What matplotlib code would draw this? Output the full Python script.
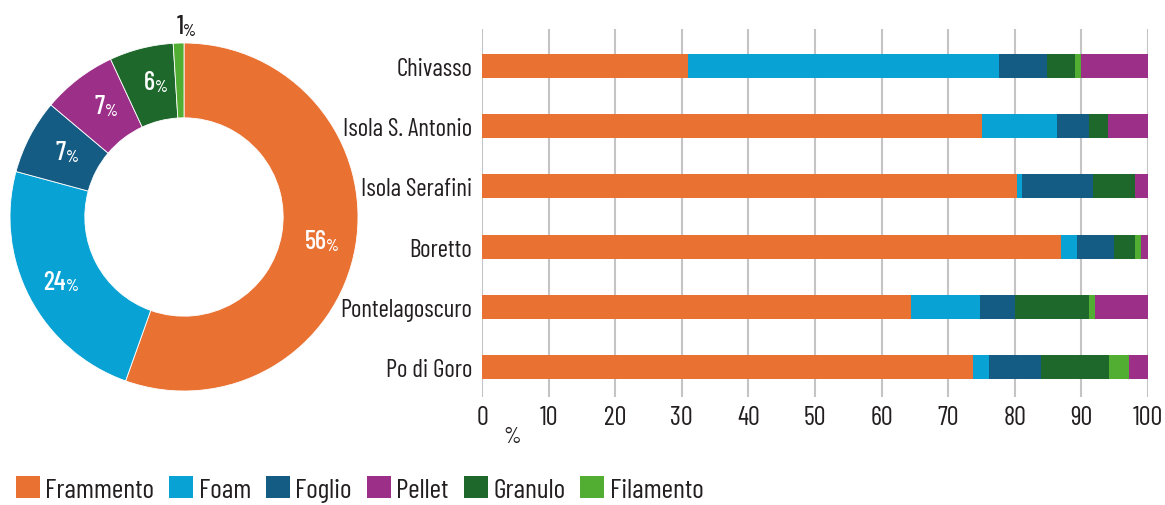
import numpy as np
import matplotlib
matplotlib.use("Agg")
import matplotlib.pyplot as plt
from matplotlib import font_manager
from matplotlib.patches import Patch

# font condensato se disponibile
names = {f.name for f in font_manager.fontManager.ttflist}
font = "Barlow Condensed" if "Barlow Condensed" in names else "DejaVu Sans"
plt.rcParams["font.family"] = [font, "DejaVu Sans"]

# dati
tipi = ["Frammento", "Foam", "Foglio", "Pellet", "Granulo", "Filamento"]
colori = {"Frammento": "#E97132", "Foam": "#09A2D4", "Foglio": "#155C84",
          "Pellet": "#9C3089", "Granulo": "#1E682C", "Filamento": "#52AE32"}

torta = [56, 24, 7, 7, 6, 1]  # stesso ordine di tipi

siti = ["Chivasso", "Isola S. Antonio", "Isola Serafini", "Boretto",
        "Pontelagoscuro", "Po di Goro"]
ordine_barre = ["Frammento", "Foam", "Foglio", "Granulo", "Filamento", "Pellet"]
frammento = [30.9, 75.1, 80.3, 87.0, 64.4, 73.7]
foam = [46.8, 11.2, 0.8, 2.3, 10.4, 2.4]
foglio = [7.1, 4.9, 10.7, 5.6, 5.2, 7.9]
granulo = [4.2, 2.8, 6.3, 3.2, 11.1, 10.1]
filamento = [0.9, 0.0, 0.0, 0.9, 0.9, 3.1]
pellet = [10.1, 6.0, 1.9, 1.0, 8.0, 2.8]
valori = {"Frammento": frammento, "Foam": foam, "Foglio": foglio,
          "Granulo": granulo, "Filamento": filamento, "Pellet": pellet}
xticks = [0, 10, 20, 30, 40, 50, 60, 70, 80, 90, 100]

testo = "#231f20"

fig = plt.figure(figsize=(11.65, 5.06), dpi=100)

# ciambella
W, H = 1165, 506
axp = fig.add_axes([10 / W, 1 - 392 / H, 348 / W, 348 / H])
wedges, _ = axp.pie(torta, colors=[colori[t] for t in tipi], startangle=90,
                    counterclock=False, radius=1,
                    wedgeprops=dict(width=0.43, edgecolor="white", linewidth=0.6))
axp.set_xlim(-1, 1)
axp.set_ylim(-1, 1)
axp.set_aspect("equal")
axp.axis("off")
for w, v in zip(wedges, torta):
    ang = np.deg2rad((w.theta1 + w.theta2) / 2)
    if v < 3:
        r, col = 1.1, testo
    else:
        r, col = 0.8, "white"
    x, y = r * np.cos(ang), r * np.sin(ang)
    axp.text(x + 0.03, y, str(v), ha="right", va="center", fontsize=19,
             color=col, fontweight="medium", clip_on=False)
    axp.text(x + 0.03, y - 0.025, "%", ha="left", va="center", fontsize=12,
             color=col, fontweight="medium", clip_on=False)

# barre
axb = fig.add_axes([482 / W, 1 - 398 / H, 666 / W, 368 / H])
y = np.arange(len(siti))
left = np.zeros(len(siti))
for t in ordine_barre:
    v = np.array(valori[t])
    axb.barh(y, v, left=left, height=0.4, color=colori[t], zorder=3)
    left += v
axb.set_ylim(5.5, -0.615)
axb.set_xlim(0, 100)
axb.set_xticks(xticks)
axb.set_yticks(y)
axb.set_yticklabels(siti)
axb.grid(axis="x", color="#c4c4c4", linewidth=1.5, zorder=0)
for s in axb.spines.values():
    s.set_visible(False)
axb.tick_params(axis="both", length=0, labelsize=18, colors=testo)
axb.tick_params(axis="x", labelsize=19, pad=6)
axb.tick_params(axis="y", pad=7)
axb.text(4.5, -0.08, "%", transform=axb.get_xaxis_transform(), ha="center",
         va="top", fontsize=16, color=testo)

# legenda
handles = [Patch(facecolor=colori[t], label=t) for t in tipi]
fig.legend(handles=handles, loc="center left", bbox_to_anchor=(16 / W, 1 - 490 / H),
           ncol=6, frameon=False, fontsize=20, handlelength=0.85,
           handleheight=0.85, handletextpad=0.2, columnspacing=0.55,
           borderpad=0, borderaxespad=0, labelcolor=testo)

fig.savefig("out.png", dpi=100)
